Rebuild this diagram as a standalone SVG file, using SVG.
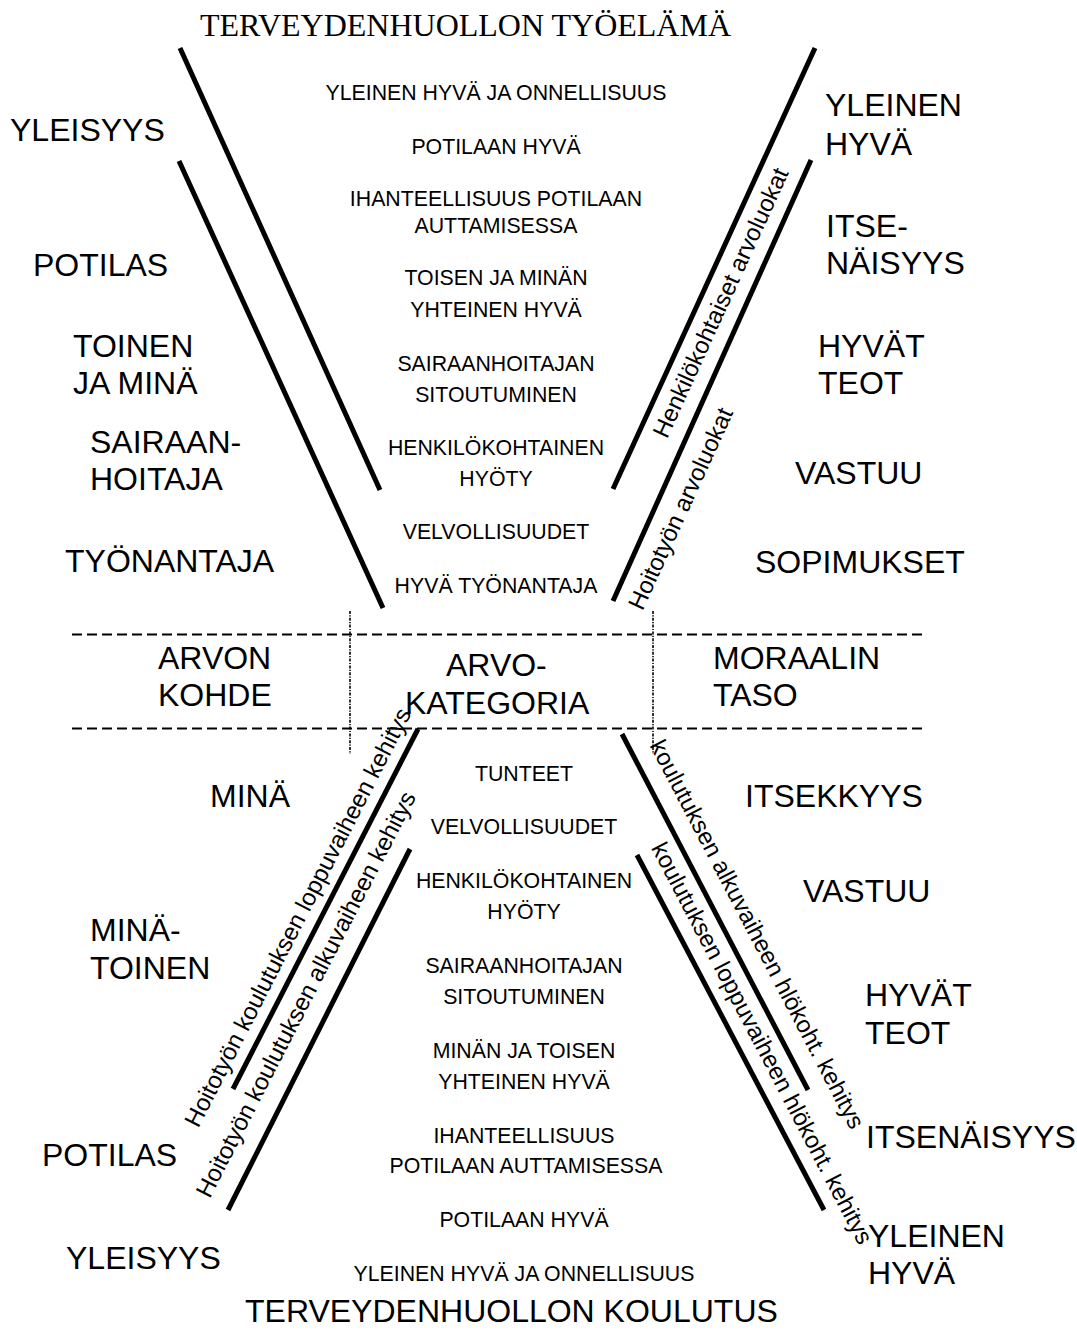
<svg xmlns="http://www.w3.org/2000/svg" width="1077" height="1331" viewBox="0 0 1077 1331">
  <style>
    text { font-family: "Liberation Sans", Arial, sans-serif; fill: #000; }
    .title-serif { font-family: "Liberation Serif", "Times New Roman", serif; font-size: 32px; }
    .big { font-size: 32px; }
    .small { font-size: 21.3px; text-anchor: middle; }
    .rot { font-size: 24px; text-anchor: middle; }
    .bar { stroke: #000; stroke-width: 5; fill: none; }
    .dash { stroke: #000; stroke-width: 2; stroke-dasharray: 10 5; fill: none; }
    .dot { stroke: #000; stroke-width: 1.6; stroke-dasharray: 3 1.3 1.2 1.3; fill: none; }
  </style>
  <rect width="1077" height="1331" fill="#fff"/>

  <!-- funnel bars, separators and their labels -->
  <g id="connectors">
    <!-- upper funnel -->
    <line class="bar" x1="180" y1="48" x2="380" y2="490"/>
    <line class="bar" x1="179" y1="161" x2="383" y2="608"/>
    <line class="bar" x1="815" y1="48" x2="613" y2="489"/>
    <line class="bar" x1="811" y1="160" x2="613" y2="601"/>
    <!-- lower funnel -->
    <line class="bar" x1="418" y1="729" x2="233" y2="1089"/>
    <line class="bar" x1="410" y1="849" x2="228" y2="1210"/>
    <line class="bar" x1="622" y1="734" x2="808" y2="1090"/>
    <line class="bar" x1="637" y1="855" x2="824" y2="1210"/>
    <!-- middle band -->
    <line class="dash" x1="72" y1="634.5" x2="922" y2="634.5"/>
    <line class="dash" x1="72" y1="728.5" x2="922" y2="728.5"/>
    <line class="dot" x1="350" y1="611" x2="350" y2="754"/>
    <line class="dot" x1="653" y1="611" x2="653" y2="754"/>

    <text class="rot" transform="translate(728,306) rotate(-65.4)">Henkilökohtaiset arvoluokat</text>
    <text class="rot" transform="translate(688,512) rotate(-65.4)">Hoitotyön arvoluokat</text>
    <text class="rot" transform="translate(305,921) rotate(-62.8)">Hoitotyön koulutuksen loppuvaiheen kehitys</text>
    <text class="rot" transform="translate(313,998) rotate(-62.8)">Hoitotyön koulutuksen alkuvaiheen kehitys</text>
    <text class="rot" transform="translate(750,938) rotate(62.4)">koulutuksen alkuvaiheen hlökoht. kehitys</text>
    <text class="rot" transform="translate(755,1047) rotate(62.4)">koulutuksen loppuvaiheen hlökoht. kehitys</text>
  </g>

  <!-- headings -->
  <g id="title-top"><text class="title-serif" x="200" y="36">TERVEYDENHUOLLON TYÖELÄMÄ</text></g>
  <g id="title-bottom"><text class="big" x="245" y="1322">TERVEYDENHUOLLON KOULUTUS</text></g>

  <!-- value objects, upper left -->
  <g id="yleisyys-top"><text class="big" x="10" y="141">YLEISYYS</text></g>
  <g id="potilas-top"><text class="big" x="33" y="276">POTILAS</text></g>
  <g id="toinen-ja-mina"><text class="big" x="73" y="357">TOINEN</text><text class="big" x="73" y="394">JA MINÄ</text></g>
  <g id="sairaanhoitaja"><text class="big" x="90" y="453">SAIRAAN-</text><text class="big" x="90" y="490">HOITAJA</text></g>
  <g id="tyonantaja"><text class="big" x="65" y="572">TYÖNANTAJA</text></g>

  <!-- moral levels, upper right -->
  <g id="yleinen-hyva-top"><text class="big" x="825" y="116">YLEINEN</text><text class="big" x="825" y="155">HYVÄ</text></g>
  <g id="itsenaisyys-top"><text class="big" x="826" y="237">ITSE-</text><text class="big" x="826" y="274">NÄISYYS</text></g>
  <g id="hyvat-teot-top"><text class="big" x="818" y="357">HYVÄT</text><text class="big" x="818" y="394">TEOT</text></g>
  <g id="vastuu-top"><text class="big" x="795" y="484">VASTUU</text></g>
  <g id="sopimukset"><text class="big" x="755" y="573">SOPIMUKSET</text></g>

  <!-- value categories, upper funnel -->
  <g id="cat-top-1"><text class="small" x="496" y="99.5">YLEINEN HYVÄ JA ONNELLISUUS</text></g>
  <g id="cat-top-2"><text class="small" x="496" y="153.5">POTILAAN HYVÄ</text></g>
  <g id="cat-top-3"><text class="small" x="496" y="205.5">IHANTEELLISUUS POTILAAN</text><text class="small" x="496" y="232.5">AUTTAMISESSA</text></g>
  <g id="cat-top-4"><text class="small" x="496" y="284.5">TOISEN JA MINÄN</text><text class="small" x="496" y="316.5">YHTEINEN HYVÄ</text></g>
  <g id="cat-top-5"><text class="small" x="496" y="370.5">SAIRAANHOITAJAN</text><text class="small" x="496" y="401.5">SITOUTUMINEN</text></g>
  <g id="cat-top-6"><text class="small" x="496" y="454.5">HENKILÖKOHTAINEN</text><text class="small" x="496" y="485.5">HYÖTY</text></g>
  <g id="cat-top-7"><text class="small" x="496" y="539">VELVOLLISUUDET</text></g>
  <g id="cat-top-8"><text class="small" x="496" y="593">HYVÄ TYÖNANTAJA</text></g>

  <!-- column headers -->
  <g id="arvon-kohde"><text class="big" x="158" y="669">ARVON</text><text class="big" x="158" y="706">KOHDE</text></g>
  <g id="arvokategoria"><text class="big" x="446" y="676">ARVO-</text><text class="big" x="405" y="714">KATEGORIA</text></g>
  <g id="moraalin-taso"><text class="big" x="713" y="669">MORAALIN</text><text class="big" x="713" y="706">TASO</text></g>

  <!-- value categories, lower funnel -->
  <g id="cat-bot-1"><text class="small" x="524" y="781">TUNTEET</text></g>
  <g id="cat-bot-2"><text class="small" x="524" y="834">VELVOLLISUUDET</text></g>
  <g id="cat-bot-3"><text class="small" x="524" y="888">HENKILÖKOHTAINEN</text><text class="small" x="524" y="919">HYÖTY</text></g>
  <g id="cat-bot-4"><text class="small" x="524" y="973">SAIRAANHOITAJAN</text><text class="small" x="524" y="1004">SITOUTUMINEN</text></g>
  <g id="cat-bot-5"><text class="small" x="524" y="1058">MINÄN JA TOISEN</text><text class="small" x="524" y="1089">YHTEINEN HYVÄ</text></g>
  <g id="cat-bot-6"><text class="small" x="524" y="1143">IHANTEELLISUUS</text><text class="small" x="526" y="1173">POTILAAN AUTTAMISESSA</text></g>
  <g id="cat-bot-7"><text class="small" x="524" y="1227">POTILAAN HYVÄ</text></g>
  <g id="cat-bot-8"><text class="small" x="524" y="1281">YLEINEN HYVÄ JA ONNELLISUUS</text></g>

  <!-- value objects, lower left -->
  <g id="mina"><text class="big" x="210" y="807">MINÄ</text></g>
  <g id="mina-toinen"><text class="big" x="90" y="941">MINÄ-</text><text class="big" x="90" y="979">TOINEN</text></g>
  <g id="potilas-bottom"><text class="big" x="42" y="1166">POTILAS</text></g>
  <g id="yleisyys-bottom"><text class="big" x="66" y="1269">YLEISYYS</text></g>

  <!-- moral levels, lower right -->
  <g id="itsekkyys"><text class="big" x="745" y="807">ITSEKKYYS</text></g>
  <g id="vastuu-bottom"><text class="big" x="803" y="902">VASTUU</text></g>
  <g id="hyvat-teot-bottom"><text class="big" x="865" y="1006">HYVÄT</text><text class="big" x="865" y="1044">TEOT</text></g>
  <g id="itsenaisyys-bottom"><text class="big" x="866" y="1148">ITSENÄISYYS</text></g>
  <g id="yleinen-hyva-bottom"><text class="big" x="868" y="1247">YLEINEN</text><text class="big" x="868" y="1284">HYVÄ</text></g>
</svg>
